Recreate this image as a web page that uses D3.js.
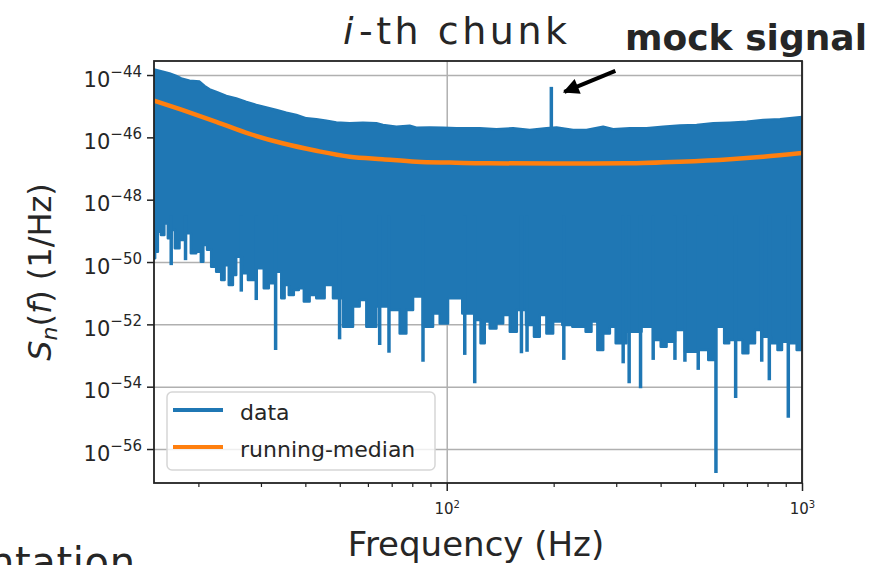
<!DOCTYPE html>
<html>
<head>
<meta charset="utf-8">
<script src="https://cdn.jsdelivr.net/npm/d3@7"></script>
<style>
  body { margin: 0; background: #fff; }
  svg { display: block; }
  text { font-family: "DejaVu Sans", sans-serif; fill: #262626; }
</style>
</head>
<body>
<div id="chart"></div>
<script>
// PSD values, stored as log10 of S_n(f)
// upper edge of the noisy data band
var upperFreq = [15, 15.88, 16.59, 17.32, 17.89, 18.89, 20.15, 20.81, 21.5, 22.46, 23.96, 25.56, 27.28, 29.1, 31.06,
  33.14, 35.36, 37.73, 40.26, 42.95, 45.83, 48.9, 53.32, 58.11, 63.39, 66.16, 72.16, 78.67, 82.16, 89.56, 97.63,
  106.5, 123.9, 138, 153.8, 171.3, 190.9, 203.7, 226.9, 247.4, 275.6, 294.1, 327.7, 365.2, 406.8, 453.3, 505.1,
  562.6, 627, 698.7, 778, 867, 1000];
var upperLog = [-43.82, -43.89, -43.95, -44.03, -44.11, -44.18, -44.21, -44.35, -44.46, -44.54, -44.67, -44.75, -44.86, -44.96, -45.04,
  -45.12, -45.21, -45.28, -45.39, -45.42, -45.47, -45.52, -45.55, -45.53, -45.55, -45.6, -45.66, -45.63, -45.69, -45.68, -45.69,
  -45.71, -45.71, -45.74, -45.71, -45.76, -45.71, -45.68, -45.76, -45.76, -45.66, -45.74, -45.71, -45.71, -45.66, -45.62, -45.6,
  -45.55, -45.53, -45.5, -45.44, -45.42, -45.35];

// lower edge of the band (without the deep dips)
var lowerFreq = [15, 15.22, 15.54, 15.85, 16.23, 16.59, 17.02, 17.32, 18.08, 18.8, 19.29, 20.15, 20.5, 20.81, 21.5,
  21.96, 22.94, 23.44, 23.96, 24.75, 25.28, 25.83, 27.28, 27.87, 30.06, 31.06, 32.08, 33.86, 34.59, 35.36, 36.52,
  37.73, 38.97, 40.26, 42.02, 43.88, 46.82, 48.9, 53.32, 55.68, 58.11, 60.7, 66.16, 72.16, 75.32, 78.67, 82.16,
  89.56, 93.54, 97.63, 104.2, 117.4, 122.5, 126.6, 129.3, 135, 141.1, 147.3, 153.8, 161.3, 173.2, 178.9, 186.7,
  195, 203.7, 219.6, 232, 242.1, 250, 261.2, 269.8, 281.8, 294.1, 303.8, 338.5, 369, 393.8, 406.8, 424.9, 453.3,
  483.6, 538.9, 550.6, 594.1, 613.7, 633.9, 669, 691, 721.8, 753.4, 795.6, 839.5, 867, 889.9, 945.2, 987.2, 1000];
var lowerLog = [-49.88, -49.67, -49.03, -49.13, -48.76, -49.24, -48.97, -49.56, -49.29, -49.08, -49.72, -49.67, -49.99, -49.45, -49.61,
  -50.15, -50.31, -50.58, -50.1, -50.74, -50.42, -49.83, -50.36, -50.58, -50.2, -50.84, -50.68, -50.31, -51.16, -50.74, -51.06,
  -50.9, -50.84, -51.27, -51.06, -51.16, -50.74, -51.16, -52.08, -51.43, -51.22, -52.08, -51.43, -51.54, -52.29, -51.54, -51.11,
  -52.08, -51.65, -51.97, -51.16, -51.65, -51.86, -52.61, -51.91, -52.13, -51.97, -51.7, -52.24, -51.54, -52.02, -52.4, -51.7,
  -52.29, -51.91, -52.02, -52.08, -52.08, -52.24, -51.91, -52.82, -52.29, -52.08, -52.61, -52.24, -52.08, -52.5, -52.72, -52.56, -52.18,
  -52.88, -52.82, -53.14, -52.08, -52.61, -52.5, -52.5, -52.93, -52.61, -52.18, -52.4, -52.61, -52.82, -52.56, -52.61, -52.82, -52.7];

// single deep downward spikes
var dipFreq = [16.77, 18.4, 26.41, 29.1, 32.99, 49.94, 64.76, 68.78, 85.75, 112.4, 119.9, 162.3, 168.3, 213.6,
  313.8, 326.2, 351.2, 381.2, 438.9, 468.2, 510.4, 572.5, 650.5, 770.3, 809.1, 915];
var dipLog = [-50.1, -49.94, -50.95, -51.22, -52.82, -52.48, -52.66, -52.91, -53.2, -52.98, -53.89, -52.93, -52.88, -53.14,
  -53.25, -53.89, -54.05, -53.14, -53.14, -53.2, -53.46, -56.77, -54.36, -53.2, -53.79, -55.0];

// injected line
var signalFreq = 197;
var signalLog = -44.38;
var signalBaseLog = -45.7;

// running median
var medianFreq = [15, 18, 22.46, 27.87, 34.5, 42.95, 53.32, 66, 82.16, 102, 124, 200, 320, 453, 627, 778, 1000];
var medianLog = [-44.82, -45.12, -45.5, -45.89, -46.19, -46.43, -46.62, -46.7, -46.78, -46.81, -46.83, -46.84, -46.83, -46.78, -46.7, -46.62, -46.5];

var yTickExp = [-44, -46, -48, -50, -52, -54, -56];
var xMajorExp = [2, 3];
var xMinor = [20, 30, 40, 50, 60, 70, 80, 90, 200, 300, 400, 500, 600, 700, 800, 900];
var legendLabels = ["data", "running-median"];

var svgWidth = 887;
var svgHeight = 565;
var margin = { top: 61, right: 85, bottom: 82, left: 154 };
var width = svgWidth - margin.left - margin.right;
var height = svgHeight - margin.top - margin.bottom;

var blue = "#1f77b4";
var orange = "#ff7f0e";

var svg = d3.select("#chart")
  .append("svg")
  .attr("width", svgWidth)
  .attr("height", svgHeight);

svg.append("rect").attr("width", svgWidth).attr("height", svgHeight).attr("fill", "#fff");

var chartGroup = svg.append("g")
  .attr("transform", `translate(${margin.left}, ${margin.top})`);

var xScale = d3.scaleLog().domain([15, 1000]).range([0, width]);
var yScale = d3.scaleLog().domain([Math.pow(10, -57.09), Math.pow(10, -43.55)]).range([height, 0]);
var p10 = v => Math.pow(10, v);

chartGroup.append("clipPath").attr("id", "clip")
  .append("rect").attr("width", width).attr("height", height);

// grid
chartGroup.append("g")
  .call(d3.axisLeft(yScale).tickValues(yTickExp.map(p10)).tickSize(-width).tickFormat(""))
  .call(g => g.select(".domain").remove())
  .call(g => g.selectAll("line").attr("stroke", "#b0b0b0").attr("stroke-width", 1.5));

chartGroup.append("g")
  .call(d3.axisBottom(xScale).tickValues(xMajorExp.map(p10)).tickSize(height).tickFormat(""))
  .call(g => g.select(".domain").remove())
  .call(g => g.selectAll("line").attr("stroke", "#b0b0b0").attr("stroke-width", 1.5));

// data band
var plot = chartGroup.append("g").attr("clip-path", "url(#clip)");

var upperPts = upperFreq.map((f, i) => [f, upperLog[i]]);
var lowerPts = lowerFreq.map((f, i) => [f, lowerLog[i]]).reverse();

var lineLin = d3.line().x(d => xScale(d[0])).y(d => yScale(p10(d[1])));
var lineStep = d3.line().x(d => xScale(d[0])).y(d => yScale(p10(d[1]))).curve(d3.curveStep);

var bandPath = lineLin(upperPts) + "L" + lineStep(lowerPts).slice(1) + "Z";

plot.append("path")
  .attr("d", bandPath)
  .attr("fill", blue)
  .attr("stroke", blue)
  .attr("stroke-width", 2.5)
  .attr("stroke-linejoin", "round");

plot.selectAll(".dip")
  .data(dipFreq)
  .enter()
  .append("line")
  .classed("dip", true)
  .attr("x1", d => xScale(d))
  .attr("x2", d => xScale(d))
  .attr("y1", yScale(p10(-48.5)))
  .attr("y2", (d, i) => yScale(p10(dipLog[i])))
  .attr("stroke", blue)
  .attr("stroke-width", 3.5);

plot.append("line")
  .attr("x1", xScale(signalFreq))
  .attr("x2", xScale(signalFreq))
  .attr("y1", yScale(p10(signalBaseLog)))
  .attr("y2", yScale(p10(signalLog)))
  .attr("stroke", blue)
  .attr("stroke-width", 3.5);

// running median
plot.append("path")
  .datum(medianFreq.map((f, i) => [f, medianLog[i]]))
  .attr("d", d3.line().x(d => xScale(d[0])).y(d => yScale(p10(d[1]))).curve(d3.curveMonotoneX))
  .attr("fill", "none")
  .attr("stroke", orange)
  .attr("stroke-width", 4.5);

// axes
var yAxis = chartGroup.append("g")
  .call(d3.axisLeft(yScale).tickValues(yTickExp.map(p10)).tickSize(7).tickFormat(""));
yAxis.select(".domain").remove();
yAxis.selectAll("line").attr("stroke", "#222").attr("stroke-width", 1.5);
yAxis.selectAll(".tick").each(function(d, i) {
  var t = d3.select(this).append("text")
    .attr("x", -12)
    .attr("y", 11)
    .attr("text-anchor", "end")
    .attr("fill", "#262626");
  t.append("tspan").attr("font-size", 21).text("10");
  t.append("tspan").attr("font-size", 15).attr("dy", -10).text("\u2212" + Math.abs(yTickExp[i]));
});

var xAxisMinor = chartGroup.append("g")
  .attr("transform", `translate(0, ${height})`)
  .call(d3.axisBottom(xScale).tickValues(xMinor).tickSize(4).tickFormat(""));
xAxisMinor.select(".domain").remove();
xAxisMinor.selectAll("line").attr("stroke", "#222").attr("stroke-width", 1.2);

var xAxis = chartGroup.append("g")
  .attr("transform", `translate(0, ${height})`)
  .call(d3.axisBottom(xScale).tickValues(xMajorExp.map(p10)).tickSize(8).tickFormat(""));
xAxis.select(".domain").remove();
xAxis.selectAll("line").attr("stroke", "#222").attr("stroke-width", 1.5);
xAxis.selectAll(".tick").each(function(d, i) {
  var t = d3.select(this).append("text")
    .attr("y", 31)
    .attr("text-anchor", "middle")
    .attr("fill", "#262626");
  t.append("tspan").attr("font-size", 15).text("10");
  t.append("tspan").attr("font-size", 10).attr("dy", -6).text(xMajorExp[i]);
});

// frame
chartGroup.append("rect")
  .attr("width", width)
  .attr("height", height)
  .attr("fill", "none")
  .attr("stroke", "#222")
  .attr("stroke-width", 1.8);

// axis labels
chartGroup.append("text")
  .attr("x", width / 2 - 2)
  .attr("y", height + 73)
  .attr("text-anchor", "middle")
  .attr("font-size", 34)
  .text("Frequency (Hz)");

var ylab = chartGroup.append("text")
  .attr("transform", `translate(${-margin.left + 51}, ${height / 2}) rotate(-90)`)
  .attr("text-anchor", "middle")
  .attr("font-size", 32);
ylab.append("tspan").attr("font-style", "italic").text("S");
ylab.append("tspan").attr("font-style", "italic").attr("font-size", 22).attr("dy", 6).text("n");
ylab.append("tspan").attr("dy", -6).text("(");
ylab.append("tspan").attr("font-style", "italic").text("f");
ylab.append("tspan").text(") (1/Hz)");

// legend
var legend = chartGroup.append("g").attr("transform", "translate(13, 331)");
legend.append("rect")
  .attr("width", 268)
  .attr("height", 78)
  .attr("rx", 5)
  .attr("fill", "#fff")
  .attr("fill-opacity", 0.8)
  .attr("stroke", "#d6d6d6")
  .attr("stroke-width", 1.5);
legend.selectAll(".item")
  .data(legendLabels)
  .enter()
  .append("g")
  .attr("transform", (d, i) => `translate(0, ${18 + i * 37})`)
  .each(function(d, i) {
    var g = d3.select(this);
    g.append("line")
      .attr("x1", 6).attr("x2", 56)
      .attr("stroke", i === 0 ? blue : orange)
      .attr("stroke-width", 4);
    g.append("text")
      .attr("x", 73)
      .attr("y", 10)
      .attr("font-size", 22)
      .text(d);
  });

// title and annotations
svg.append("text")
  .attr("x", 343)
  .attr("y", 44)
  .attr("font-family", "DejaVu Serif, serif")
  .attr("font-style", "italic")
  .attr("font-size", 38)
  .text("i");

svg.append("text")
  .attr("x", 359)
  .attr("y", 44)
  .attr("font-family", "Noto Sans, sans-serif")
  .attr("font-size", 38)
  .attr("textLength", 208)
  .attr("lengthAdjust", "spacing")
  .text("-th chunk");

svg.append("text")
  .attr("x", 625)
  .attr("y", 50)
  .attr("font-family", "Noto Sans CJK JP, sans-serif")
  .attr("font-weight", 700)
  .attr("font-size", 36)
  .attr("fill", "#000")
  .attr("textLength", 242)
  .attr("lengthAdjust", "spacing")
  .text("mock signal");

svg.append("defs").append("marker")
  .attr("id", "head")
  .attr("viewBox", "0 0 10 10")
  .attr("refX", 9)
  .attr("refY", 5)
  .attr("markerWidth", 4.5)
  .attr("markerHeight", 4)
  .attr("orient", "auto")
  .append("path")
  .attr("d", "M0,0L10,5L0,10Z")
  .attr("fill", "#000");

var tipX = margin.left + xScale(signalFreq) + 11;
var tipY = margin.top + yScale(p10(signalLog)) + 6;
svg.append("line")
  .attr("x1", tipX + 53)
  .attr("y1", tipY - 22)
  .attr("x2", tipX + 2)
  .attr("y2", tipY - 1)
  .attr("stroke", "#000")
  .attr("stroke-width", 4)
  .attr("marker-end", "url(#head)");

svg.append("text")
  .attr("x", -11)
  .attr("y", 576)
  .attr("font-family", "Noto Sans, sans-serif")
  .attr("font-size", 40)
  .attr("textLength", 146)
  .attr("lengthAdjust", "spacing")
  .text("ntation");
</script>
</body>
</html>
